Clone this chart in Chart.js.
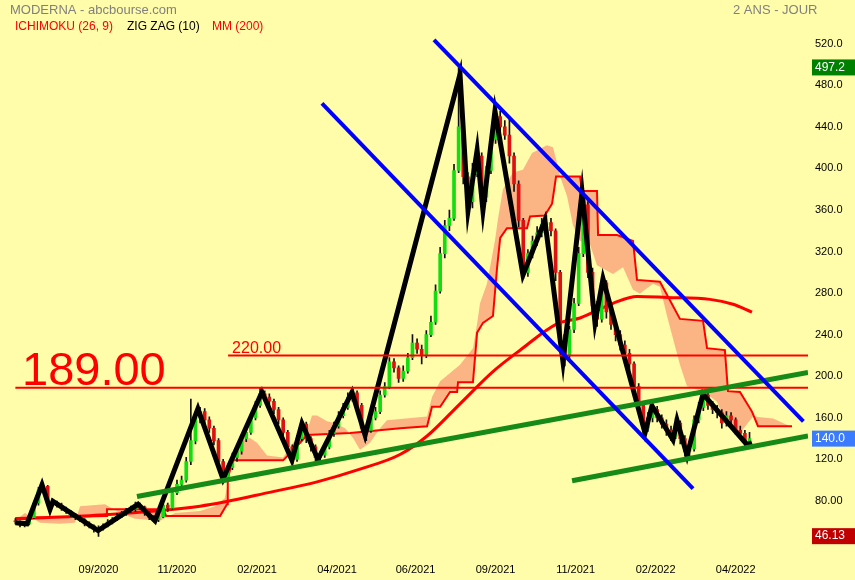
<!DOCTYPE html>
<html>
<head>
<meta charset="utf-8">
<script src="https://cdn.jsdelivr.net/npm/chart.js@4.4.0/dist/chart.umd.min.js"></script>
<style>
  html, body { margin: 0; padding: 0; background: #FFFCAA; }
</style>
</head>
<body>
<canvas id="moderna" width="855" height="580"></canvas>
<script>
// Moderna, 2 ans, bougies regroupees par 3 seances
const barStep = 3;
const firstOpen = 61;
const closes = [60,57,58,64,78,90,94,78,78,76,
  73,70,67,64,62,58,56,54,53,56,
  60,62,66,68,70,72,76,74,68,64,
  62,65,76,73,88,96,100,118,138,160,
  166,158,150,138,118,102,112,122,128,140,
  146,160,172,183,180,176,168,158,146,132,
  120,140,154,140,132,122,124,132,145,152,
  162,170,180,184,172,150,148,160,166,182,
  190,214,208,198,205,218,232,226,220,240,
  252,282,318,345,352,398,440,392,368,395,
  412,372,398,428,450,440,432,412,385,350,
  300,318,330,338,346,348,340,300,240,220,
  245,270,318,365,300,268,255,290,262,250,
  240,230,222,212,190,172,150,160,168,160,
  154,148,142,155,140,128,130,158,170,182,
  172,168,165,155,162,158,148,145,136,140];
const highs = [63,61,60,66,80,93,97,95,82,80,
  78,74,71,68,66,63,60,57,56,58,
  62,64,68,70,73,75,79,78,75,70,
  66,67,80,78,92,100,104,122,178,165,
  170,169,161,152,140,120,115,126,132,143,
  150,164,176,189,186,183,178,170,160,148,
  134,143,158,156,142,134,127,135,148,156,
  166,174,184,188,186,174,152,163,170,186,
  194,218,217,210,210,222,240,236,230,244,
  258,288,324,350,360,404,497,445,396,405,
  420,415,402,434,458,455,446,450,415,388,
  352,322,335,344,352,355,352,342,302,244,
  248,275,324,378,368,304,272,296,292,265,
  254,244,234,226,214,193,175,165,175,171,
  163,158,152,160,157,143,134,162,175,186,
  184,176,172,168,166,165,160,152,148,146];
const lows = [58,55,55,57,63,76,88,76,75,74,
  71,68,65,62,60,56,54,50,46,52,
  55,58,61,64,66,69,70,72,66,62,
  60,60,64,70,72,86,94,98,115,135,
  155,152,146,134,114,98,100,110,118,125,
  137,144,158,170,176,172,164,154,142,128,
  116,118,138,136,128,118,118,122,130,142,
  150,160,168,176,168,146,138,146,158,164,
  180,188,204,194,195,203,216,222,212,218,
  238,250,280,314,340,350,396,385,360,362,
  392,365,368,395,424,435,428,405,378,344,
  294,296,314,326,334,340,335,292,230,210,
  216,242,268,315,295,262,248,252,256,245,
  234,225,216,206,185,166,145,147,156,156,
  150,143,138,140,135,123,122,128,155,167,
  168,164,160,150,152,154,144,141,132,134];

// ZigZag (10)
const zzDay = [0,7.5,17.3,22.5,24.4,53.7,79.7,90.7,118.6,134.9,160.2,179.7,186.2,196.6,218.7,227.2,
  288.9,294.1,300,303.8,311.6,329.8,344,355.8,368.2,376.6,381.8,409.1,413.6,427.3,429.9,436.4,446.8,475.4,478.6];
const zzVal = [59,58,95.6,72,79.6,51.5,76.8,60.9,168.8,101.2,184.8,119.1,154.7,120,184.8,143.5,
  490.8,359.4,417.6,359.4,455.1,297.4,350,213.9,377.2,251.4,293.7,145.4,171.6,138.8,157.6,123.8,182.9,134.1,136];

// MM (200)
const mmDay = [0,55,120,167.4,196,223.9,249.9,267.5,288.9,310.3,327.9,351.9,366.9,388.3,403.9,423.4,451.3,466.3,478.6];
const mmVal = [62.8,66.5,75,89,98.4,110.6,124.7,142.5,173.5,204.5,225.1,250.5,256.1,270.2,276.8,275.8,274,269.3,261.8];

// Ichimoku : span A (bord du nuage) et span B (ligne rouge)
const spanADay = [0,6.2,16,29,38.7,42,58.2,68,77.7,94,103.7,120,129.7,136,142.7,147.9,152.4,157,163.5,173.9,
  180.4,189.5,192.7,196,202.5,207.7,214.2,219.4,223.9,230.4,236.9,241.4,267.5,270.7,276,288.9,297.3,300,301.9,
  306.4,311.6,313.6,316.8,323.3,329.8,335.7,345.4,349.3,351.9,353.9,358.4,362.3,366.9,373.4,377.9,388.3,394.8,
  401.3,405.8,414.3,418.8,423.4,431.8,436.4,446.8,455.9,462.4,470.8,479.3,492.3,503.3];
const spanAVal = [60.9,68.4,59,58.1,59,75,76.8,68.4,62.8,60.9,68.4,70.3,75,82.5,131.3,138.8,140.7,136,123.8,121.9,
  136,147.2,162.3,162.3,156.6,154.7,150,140.7,129.4,136,150,157.6,161.3,180.1,195.1,211.1,227,250.5,270.2,
  289,330.3,351.9,380,396,398.8,414.8,422.3,420.4,405.4,392.2,373.5,345.3,330.3,326.5,306.8,298.4,304.9,
  283.3,279.6,289,286.2,258,211.1,190.4,185.7,175.4,151.9,145.4,161.3,159.4,151.9];
const spanBDay = [0,59.5,59.5,96,98,133,137.5,138,141,174,185,189.5,217.5,250,267.5,270.7,276,282.4,287,287.6,
  297.3,300,303.8,310.3,313,315,319.4,332.4,334.4,344,348.7,351.3,366.9,368.2,377.9,378.6,390.9,401.3,403.9,
  418.8,431.8,446.8,449.4,461,463,470.8,478.6,482.5,504.6];
const spanBVal = [63.7,65.6,72.1,72.1,65.6,65.6,76.8,101.2,119.1,119.1,136,143.5,145.4,150,151.9,170.7,170.7,184.8,184.8,194.2,
  194.2,242,251.4,258,304.9,333.1,342.5,342.5,353.7,354.7,366,392.2,392.2,378.2,378.2,335.9,335.9,330.3,292.7,
  290.9,255.2,253.3,227,225.2,185.7,184.8,166,151.9,151.9];

// Droites tracees
const canalHautDay = [272, 512], canalHautVal = [523.7, 156.6];
const canalBasDay = [199.2, 440.3], canalBasVal = [462.6, 91.9];
const supportDay = [79, 515], supportVal = [84.3, 203.6];
const support2Day = [361.7, 515], support2Val = [99.4, 142.5];
const niveaux = [189, 220];
const niveauxDebut = [0, 138.2];
const finTrace = 515;

const tickDays = [54, 105, 157, 209, 260, 312, 364, 416, 468];
const tickLabels = ['09/2020', '11/2020', '02/2021', '04/2021', '06/2021', '09/2021', '11/2021', '02/2022', '04/2022'];
const yTicks = [80, 120, 160, 200, 240, 280, 320, 360, 400, 440, 480, 520];
const dernier = 140.0, plusHaut = 497.2, plusBas = 46.13;

const FONT = "'Liberation Sans', Arial, sans-serif";
const pts = (xs, ys) => xs.map((x, k) => ({ x: x, y: ys[k] }));
const opens = closes.map((c, k) => k === 0 ? firstOpen : closes[k - 1]);

const line = (data, color, width, order) => ({
  type: 'line', data: data, borderColor: color, borderWidth: width,
  pointRadius: 0, tension: 0, fill: false, order: order
});

const decor = {
  id: 'decor',
  beforeDraw(chart) {
    const c = chart.ctx;
    c.save();
    c.fillStyle = '#FFFCAA';
    c.fillRect(0, 0, chart.width, chart.height);
    c.restore();
  },
  afterDatasetsDraw(chart) {
    const c = chart.ctx, x = chart.scales.x, y = chart.scales.y;
    c.save();
    c.fillStyle = '#FF0000';
    c.textBaseline = 'alphabetic';
    c.font = '47px ' + FONT;
    c.fillText(niveaux[0].toFixed(2), 22, y.getPixelForValue(niveaux[0]) - 3);
    c.font = '16px ' + FONT;
    c.fillText(niveaux[1].toFixed(2), x.getPixelForValue(niveauxDebut[1]) + 4, y.getPixelForValue(niveaux[1]) - 2);
    c.restore();
  },
  afterDraw(chart) {
    const c = chart.ctx, y = chart.scales.y;
    c.save();
    c.textBaseline = 'middle';
    c.font = '13px ' + FONT;
    c.fillStyle = '#808080';
    c.fillText('MODERNA - abcbourse.com', 10, 10);
    c.fillText('2 ANS - JOUR', 733, 10);
    c.font = '12px ' + FONT;
    c.fillStyle = '#FF0000';
    c.fillText('ICHIMOKU (26, 9)', 15, 27);
    c.fillStyle = '#000000';
    c.fillText('ZIG ZAG (10)', 127, 27);
    c.fillStyle = '#FF0000';
    c.fillText('MM (200)', 212, 27);
    const tag = (v, txt, bg) => {
      const py = y.getPixelForValue(v);
      c.fillStyle = bg;
      c.fillRect(812, py - 8, 43, 16);
      c.fillStyle = '#FFFFFF';
      c.font = '12px ' + FONT;
      c.fillText(txt, 815, py);
    };
    tag(plusHaut, plusHaut.toFixed(1), '#008000');
    tag(dernier, dernier.toFixed(1), '#3A7BFF');
    tag(plusBas, plusBas.toFixed(2), '#C00000');
    c.restore();
  }
};

const mm = line(pts(mmDay, mmVal), '#FF0000', 3, 8);
mm.cubicInterpolationMode = 'monotone';

new Chart(document.getElementById('moderna'), {
  type: 'bar',
  data: {
    datasets: [
      { type: 'line', data: pts(spanADay, spanAVal), borderColor: 'rgba(0,0,0,0)', borderWidth: 1,
        backgroundColor: '#FBB584', fill: '+1', pointRadius: 0, tension: 0, order: 10 },
      line(pts(spanBDay, spanBVal), '#FF0000', 2, 9),
      mm,
      { type: 'bar', data: closes.map((c, k) => ({ x: k * barStep, y: [lows[k], highs[k]] })),
        backgroundColor: '#111111', barThickness: 1, grouped: false, order: 7 },
      { type: 'bar', data: closes.map((c, k) => ({ x: k * barStep, y: [opens[k], c] })),
        backgroundColor: ctx => closes[ctx.dataIndex] >= opens[ctx.dataIndex] ? '#11DD11' : '#DD1111',
        borderWidth: 0, minBarLength: 1, barThickness: 3, grouped: false, order: 6 },
      line(pts(zzDay, zzVal), '#000000', 5, 4),
      line([{ x: niveauxDebut[0], y: niveaux[0] }, { x: finTrace, y: niveaux[0] }], '#FF0000', 2, 3.5),
      line([{ x: niveauxDebut[1], y: niveaux[1] }, { x: finTrace, y: niveaux[1] }], '#FF0000', 2, 3.5),
      line(pts(supportDay, supportVal), '#168A16', 5, 3),
      line(pts(support2Day, support2Val), '#168A16', 5, 3),
      line(pts(canalHautDay, canalHautVal), '#0000FF', 4, 2),
      line(pts(canalBasDay, canalBasVal), '#0000FF', 4, 2)
    ]
  },
  options: {
    responsive: false,
    animation: false,
    layout: { padding: 0 },
    plugins: { legend: { display: false }, tooltip: { enabled: false } },
    scales: {
      x: {
        type: 'linear', min: -10, max: 515, offset: false,
        grid: { display: false, drawTicks: false }, border: { display: false },
        afterBuildTicks: s => { s.ticks = tickDays.map(v => ({ value: v })); },
        afterFit: s => { s.height = 25; },
        ticks: { padding: 8, maxRotation: 0, autoSkip: false, color: '#000000',
          font: { size: 11, family: FONT },
          callback: v => tickLabels[tickDays.indexOf(v)] }
      },
      y: {
        position: 'right', min: 28, max: 549,
        grid: { display: false, drawTicks: false }, border: { display: false },
        afterBuildTicks: s => { s.ticks = yTicks.map(v => ({ value: v })); },
        afterFit: s => { s.width = 47; },
        ticks: { padding: 7, color: '#000000', font: { size: 11, family: FONT },
          callback: v => Number(v).toPrecision(4) }
      }
    }
  },
  plugins: [decor]
});
</script>
</body>
</html>
